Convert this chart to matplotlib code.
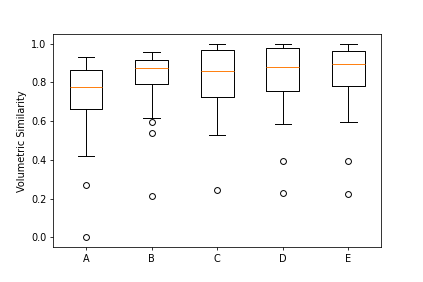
import matplotlib
matplotlib.use("Agg")
import matplotlib.pyplot as plt

# box statistics
labels = ["A", "B", "C", "D", "E"]
whis_low = [0.419, 0.617, 0.531, 0.586, 0.596]
q1 = [0.665, 0.794, 0.727, 0.758, 0.783]
medians = [0.776, 0.873, 0.859, 0.879, 0.893]
q3 = [0.864, 0.918, 0.969, 0.979, 0.964]
whis_high = [0.929, 0.959, 0.998, 0.998, 0.998]
fliers = [
    [0.268, 0.0],
    [0.594, 0.541, 0.213],
    [0.242],
    [0.395, 0.227],
    [0.395, 0.222],
]

stats = []
for i in range(len(labels)):
    stats.append({
        "label": labels[i],
        "whislo": whis_low[i],
        "q1": q1[i],
        "med": medians[i],
        "q3": q3[i],
        "whishi": whis_high[i],
        "fliers": fliers[i],
    })

fig, ax = plt.subplots(figsize=(6, 4), dpi=70.5)
fig.subplots_adjust(left=0.126, right=0.901, top=0.878, bottom=0.124)

ax.bxp(stats)
ax.set_ylabel("Volumetric Similarity")

fig.savefig("out.png", dpi=70.5)
